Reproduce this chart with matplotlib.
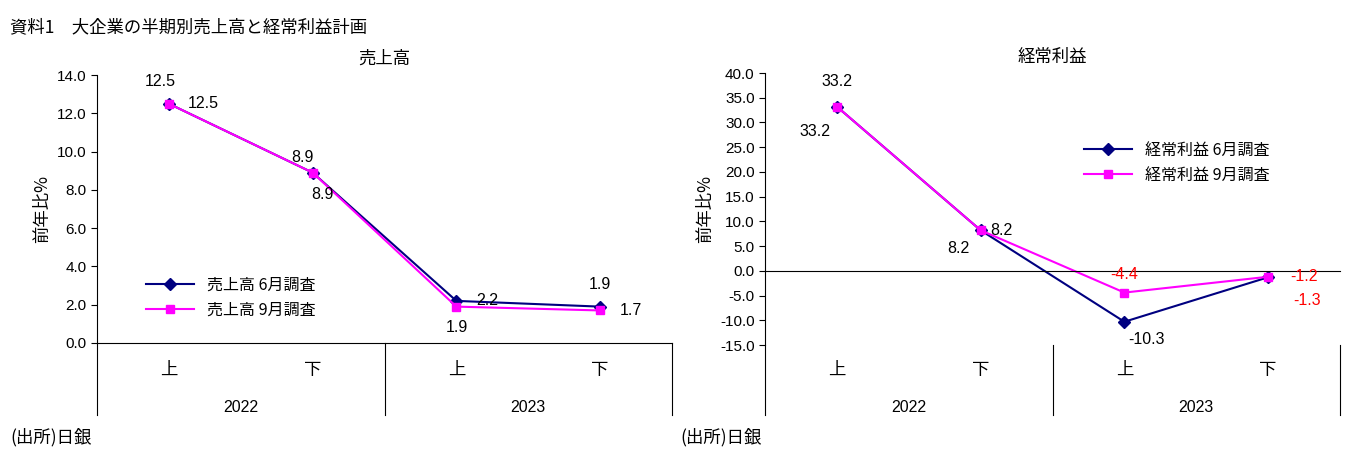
import matplotlib
matplotlib.use("Agg")
import matplotlib.pyplot as plt
from matplotlib.lines import Line2D

plt.rcParams['font.family'] = ['Noto Sans CJK JP', 'DejaVu Sans']

halves = ['上', '下', '上', '下']
years = ['2022', '2023']
sales_jun = [12.5, 8.9, 2.2, 1.9]
sales_sep = [12.5, 8.9, 1.9, 1.7]
prof_jun = [33.2, 8.2, -10.3, -1.3]
prof_sep = [33.2, 8.2, -4.4, -1.2]

NAVY = '#000080'; MAG = '#FF00FF'
W, H = 1355, 450
fig = plt.figure(figsize=(13.55, 4.5), dpi=100)
fig.text(10/W, 1-27/H, '資料1　大企業の半期別売上高と経常利益計画', fontsize=12.5, va='center')
fig.text(10/W, 1-437/H, '(出所)日銀', fontsize=12.5, va='center')
fig.text(680/W, 1-437/H, '(出所)日銀', fontsize=12.5, va='center')

def make(x0, x1, ytop, ybot, ylim, ticks, title, jun, sep, names, offs_j, offs_s, legpos, red_neg):
    ax = fig.add_axes([x0/W, 1-ybot/H, (x1-x0)/W, (ybot-ytop)/H])
    xs = [0.5, 1.5, 2.5, 3.5]
    ax.plot(xs, jun, color=NAVY, marker='D', ms=6, lw=1.5, label=names[0])
    ax.plot(xs, sep, color=MAG, marker='s', ms=6, lw=1.5, label=names[1])
    ax.set_xlim(0, 4); ax.set_ylim(*ylim)
    ax.set_yticks(ticks)
    ax.set_yticklabels([f'{t:.1f}' for t in ticks], fontsize=11, family=['Liberation Sans'])
    ax.set_xticks([])
    for s in ['top', 'right']:
        ax.spines[s].set_visible(False)
    ax.spines['bottom'].set_position(('data', 0))
    ax.tick_params(axis='y', direction='out', length=4)
    ax.set_ylabel('前年比%', fontsize=12.5)
    ax.set_title(title, fontsize=12.5, pad=8)
    for x, v, o in zip(xs, jun, offs_j):
        c = 'red' if (red_neg and v < 0 and o[2]) else 'black'
        ax.annotate(f'{v:.1f}', (x, v), xytext=o[:2], textcoords='offset points', ha='center', va='center', fontsize=11.5, color=c, family=['Liberation Sans'])
    for x, v, o in zip(xs, sep, offs_s):
        c = 'red' if (red_neg and v < 0) else 'black'
        ax.annotate(f'{v:.1f}', (x, v), xytext=o[:2], textcoords='offset points', ha='center', va='center', fontsize=11.5, color=c, family=['Liberation Sans'])
    ax.legend(loc='upper left', bbox_to_anchor=legpos, frameon=False, fontsize=11.5, handlelength=3)
    bot = 1-415/H
    for xp in [x0, (x0+x1)/2, x1]:
        fig.add_artist(Line2D([xp/W, xp/W], [bot, 1-ybot/H], color='black', lw=0.8))
    for i, h in enumerate(halves):
        fig.text((x0+(x1-x0)*(i+0.5)/4)/W, 1-370/H, h, ha='center', va='center', fontsize=12.5)
    for i, y in enumerate(years):
        fig.text((x0+(x1-x0)*(i+0.5)/2)/W, 1-408/H, y, ha='center', va='center', fontsize=11.5, family=['Liberation Sans'])
    return ax

make(97, 672, 75, 343, (0, 14), [0, 2, 4, 6, 8, 10, 12, 14], '売上高', sales_jun, sales_sep,
     ['売上高 6月調査', '売上高 9月調査'],
     [(-6, 16, 0), (-7, 11, 0), (22, 0, 0), (0, 16, 0)],
     [(25, 0, 0), (7, -16, 0), (0, -15, 0), (22, 0, 0)], (0.06, 0.3), False)
make(765, 1340, 73, 345, (-15, 40), list(range(-15, 45, 5)), '経常利益', prof_jun, prof_sep,
     ['経常利益 6月調査', '経常利益 9月調査'],
     [(0, 18, 0), (-16, -13, 0), (16, -13, 0), (28, -17, 1)],
     [(-16, -18, 0), (15, 0, 0), (0, 13, 0), (26, 0, 0)], (0.53, 0.8), True)

fig.savefig('out.png', dpi=100)
